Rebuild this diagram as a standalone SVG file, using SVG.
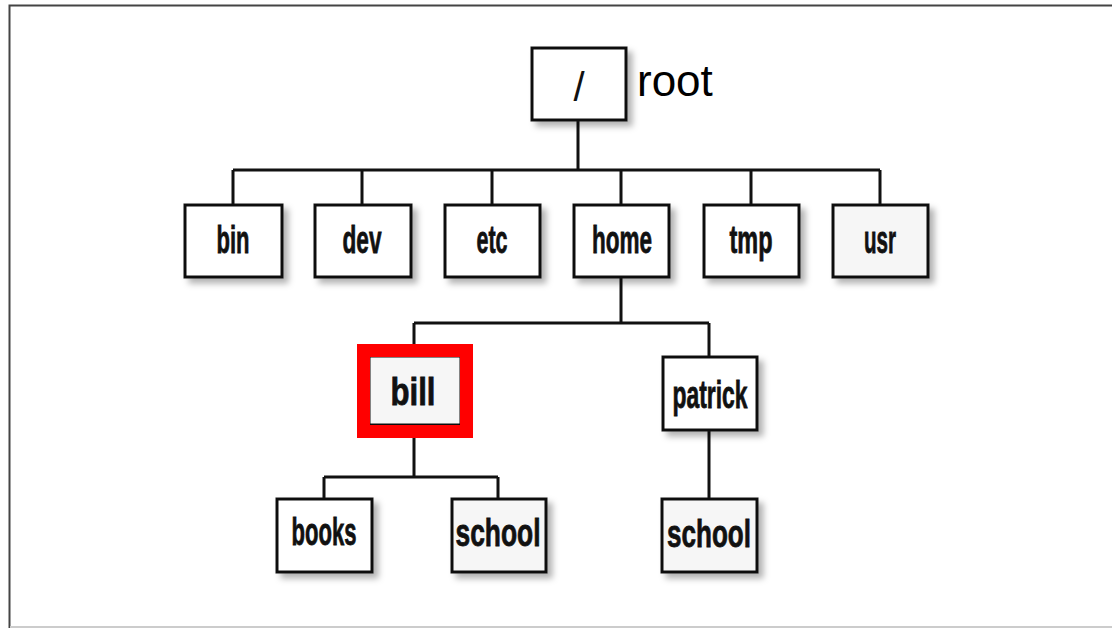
<svg xmlns="http://www.w3.org/2000/svg" width="1112" height="628" viewBox="0 0 1112 628">
<style>
.box{fill:#fff;stroke:#111;stroke-width:3}
.gray{fill:#f6f6f6}
.lbl{font-family:"Liberation Sans Narrow","Liberation Sans",Arial,sans-serif;font-weight:bold;font-size:39px;fill:#111;stroke:#111;stroke-width:0.8;text-anchor:middle}
.conn{fill:none;stroke:#111;stroke-width:3}
</style>
<defs>
<filter id="sh" x="-20%" y="-20%" width="150%" height="150%">
<feDropShadow dx="5" dy="5" stdDeviation="3" flood-color="#000" flood-opacity="0.3"/>
</filter>
</defs>
<rect x="0" y="0" width="1112" height="628" fill="#fff"/>
<path d="M9.5,628 V5.5 H1112" fill="none" stroke="#444" stroke-width="2"/>
<line x1="10" y1="627" x2="1112" y2="627" stroke="#ccc" stroke-width="2"/>
<g id="connectors">
<path class="conn" d="M578,120 V170 M233,170 H880 M233,170 V204 M362,170 V204 M492,170 V204 M621,170 V204 M751,170 V204 M880,170 V204"/>
<path class="conn" d="M621,277 V323 M414,323 H709 M414,323 V344 M709,323 V356"/>
<path class="conn" d="M414,438 V477 M324,477 H498 M324,477 V498 M498,477 V498"/>
<path class="conn" d="M709,430 V498"/>
</g>
<g id="root">
<rect class="box" x="532" y="48" width="94" height="72" filter="url(#sh)"/>
<text x="579" y="101" font-family="Liberation Sans,Arial,sans-serif" font-size="40" text-anchor="middle" fill="#111" transform="skewX(0)">/</text>
<text x="637" y="96" font-family="Liberation Sans,Arial,sans-serif" font-size="44" fill="#000">root</text>
</g>
<g id="bin"><rect class="box" x="185" y="205" width="97" height="72" filter="url(#sh)"/><text class="lbl" x="233" y="253" textLength="33" lengthAdjust="spacingAndGlyphs">bin</text></g>
<g id="dev"><rect class="box" x="315" y="205" width="96" height="72" filter="url(#sh)"/><text class="lbl" x="362" y="253" textLength="39" lengthAdjust="spacingAndGlyphs">dev</text></g>
<g id="etc"><rect class="box" x="445" y="205" width="95" height="72" filter="url(#sh)"/><text class="lbl" x="492" y="253" textLength="31" lengthAdjust="spacingAndGlyphs">etc</text></g>
<g id="home"><rect class="box" x="574" y="205" width="95" height="72" filter="url(#sh)"/><text class="lbl" x="622" y="253" textLength="60" lengthAdjust="spacingAndGlyphs">home</text></g>
<g id="tmp"><rect class="box" x="704" y="205" width="95" height="72" filter="url(#sh)"/><text class="lbl" x="751" y="253" textLength="43" lengthAdjust="spacingAndGlyphs">tmp</text></g>
<g id="usr"><rect class="box gray" x="833" y="205" width="95" height="72" filter="url(#sh)"/><text class="lbl" x="880" y="253" textLength="32" lengthAdjust="spacingAndGlyphs">usr</text></g>
<g id="bill">
<rect class="box gray" x="369" y="356" width="92" height="69" filter="url(#sh)"/>
<rect x="363.5" y="350.5" width="103" height="81" fill="none" stroke="#ff0000" stroke-width="13"/>
<text class="lbl" x="413" y="405" textLength="45" lengthAdjust="spacingAndGlyphs">bill</text>
</g>
<g id="patrick"><rect class="box" x="663" y="357" width="94" height="73" filter="url(#sh)"/><text class="lbl" x="710" y="408" textLength="75" lengthAdjust="spacingAndGlyphs">patrick</text></g>
<g id="books"><rect class="box" x="277" y="499" width="95" height="73" filter="url(#sh)"/><text class="lbl" x="324" y="545" textLength="65" lengthAdjust="spacingAndGlyphs">books</text></g>
<g id="school1"><rect class="box gray" x="452" y="499" width="94" height="73" filter="url(#sh)"/><text class="lbl" x="498" y="546" textLength="85" lengthAdjust="spacingAndGlyphs">school</text></g>
<g id="school2"><rect class="box gray" x="662" y="499" width="95" height="73" filter="url(#sh)"/><text class="lbl" x="709" y="547" textLength="84" lengthAdjust="spacingAndGlyphs">school</text></g>
</svg>
